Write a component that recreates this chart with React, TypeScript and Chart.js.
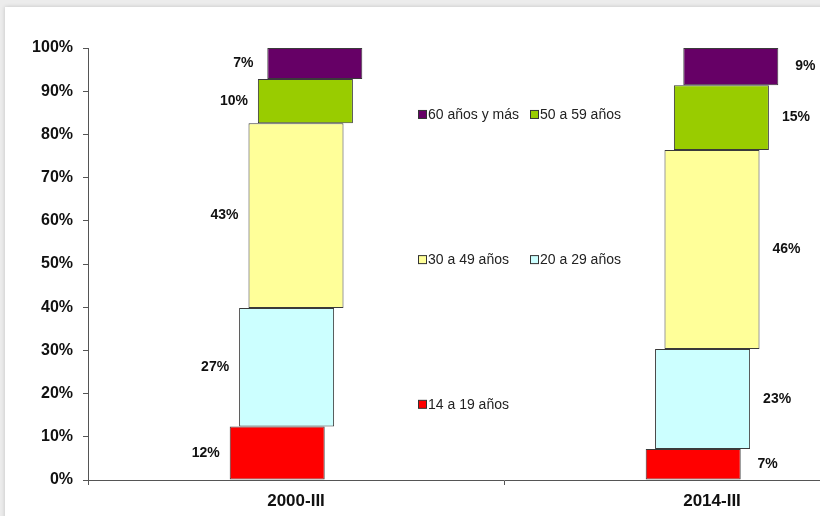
import React, { useEffect, useRef } from "react";
import { Chart, registerables } from "chart.js";

Chart.register(...registerables);

// ---- data ----
const categories = ["2000-III", "2014-III"];
const seriesNames = ["14 a 19 años", "20 a 29 años", "30 a 49 años", "50 a 59 años", "60 años y más"];
const share14to19 = [12.4, 7.2];
const share20to29 = [27.4, 23.1];
const share30to49 = [42.8, 46.1];
const share50to59 = [10.2, 15.0];
const share60plus = [7.2, 8.6];
const yTickValues = [0, 10, 20, 30, 40, 50, 60, 70, 80, 90, 100];

const seriesColors = ["#ff0000", "#ccffff", "#ffff99", "#99cc00", "#660066"];
const FONT = 'Arial, "Liberation Sans", sans-serif';

const allSeries = [share14to19, share20to29, share30to49, share50to59, share60plus];

function buildRanges() {
  const cum = categories.map(() => 0);
  return allSeries.map((series) =>
    series.map((v, j) => {
      const start = cum[j];
      cum[j] = start + v;
      return [start, cum[j]];
    })
  );
}

const valueLabelPlugin = {
  id: "valueLabels",
  afterDatasetsDraw(chart: any) {
    const ctx = chart.ctx;
    ctx.save();
    ctx.font = `bold 14px ${FONT}`;
    ctx.fillStyle = "#111";
    ctx.textAlign = "center";
    ctx.textBaseline = "middle";
    chart.data.datasets.forEach((ds: any, i: number) => {
      const meta = chart.getDatasetMeta(i);
      meta.data.forEach((el: any, j: number) => {
        const v = allSeries[i][j];
        const label = Math.round(v) + "%";
        const yMid = (el.y + el.base) / 2;
        const x = j === 0 ? el.x - el.width / 2 - 24 : el.x + el.width / 2 + 27;
        ctx.fillText(label, x, yMid);
      });
    });
    ctx.restore();
  },
};

const customLegendPlugin = {
  id: "customLegend",
  afterDraw(chart: any) {
    const ctx = chart.ctx;
    const xs = chart.scales.x;
    const ys = chart.scales.y;
    const mid = (xs.getPixelForValue(0) + xs.getPixelForValue(1)) / 2;
    const rows = [
      { at: 84.5, items: [4, 3] },
      { at: 50.9, items: [2, 1] },
      { at: 17.4, items: [0] },
    ];
    const colX = [mid - 86, mid + 26];
    ctx.save();
    ctx.font = `14px ${FONT}`;
    ctx.textAlign = "left";
    ctx.textBaseline = "middle";
    rows.forEach((row) => {
      const y = ys.getPixelForValue(row.at);
      row.items.forEach((si, c) => {
        const x = colX[c];
        ctx.fillStyle = seriesColors[si];
        ctx.fillRect(x + 0.5, y - 4.5, 8, 8);
        ctx.strokeStyle = "#333";
        ctx.lineWidth = 1;
        ctx.strokeRect(x + 0.5, y - 4.5, 8, 8);
        ctx.fillStyle = "#222";
        ctx.fillText(seriesNames[si], x + 10, y);
      });
    });
    ctx.restore();
  },
};

export default function App() {
  const canvasRef = useRef<HTMLCanvasElement | null>(null);

  useEffect(() => {
    if (!canvasRef.current) return;
    const ranges = buildRanges();
    const chart = new Chart(canvasRef.current, {
      type: "bar",
      data: {
        labels: categories,
        datasets: seriesNames.map((name, i) => ({
          label: name,
          data: ranges[i] as any,
          backgroundColor: seriesColors[i],
          borderColor: "#3a3a3a",
          borderWidth: 1,
          borderSkipped: false,
          categoryPercentage: 47 / 416,
          barPercentage: 95 / 9.4,
        })),
      },
      options: {
        responsive: false,
        animation: false,
        devicePixelRatio: 1,
        layout: { padding: { top: 48, right: 10, left: 0, bottom: 0 } },
        plugins: {
          legend: { display: false },
          tooltip: { enabled: false },
        },
        scales: {
          x: {
            stacked: false,
            offset: true,
            grid: {
              display: true,
              drawOnChartArea: false,
              offset: true,
              tickLength: 5,
              color: "#555",
            },
            border: { display: true, color: "#555", width: 1 },
            ticks: {
              color: "#111",
              font: { family: FONT, size: 17, weight: "bold" },
              padding: 6,
            },
            afterFit: (scale: any) => {
              scale.height = 36;
            },
          },
          y: {
            min: 0,
            max: 100,
            afterBuildTicks: (scale: any) => {
              scale.ticks = yTickValues.map((v) => ({ value: v }));
            },
            grid: {
              display: true,
              drawOnChartArea: false,
              tickLength: 5,
              color: "#555",
            },
            border: { display: true, color: "#555", width: 1 },
            ticks: {
              color: "#111",
              font: { family: FONT, size: 16, weight: "bold" },
              padding: 10,
              callback: (v: any) => v + "%",
            },
            afterFit: (scale: any) => {
              scale.width = 88;
            },
          },
        },
      },
      plugins: [valueLabelPlugin, customLegendPlugin],
    });
    return () => chart.destroy();
  }, []);

  return (
    <div
      style={{
        position: "fixed",
        left: 0,
        top: 0,
        width: 820,
        height: 516,
        overflow: "hidden",
        background: "#ececec",
      }}
    >
      <div
        style={{
          position: "absolute",
          left: 5,
          top: 7,
          right: -20,
          bottom: -20,
          background: "#ffffff",
          boxShadow: "0 0 4px rgba(0,0,0,0.18)",
        }}
      />
      <canvas
        ref={canvasRef}
        width={930}
        height={516}
        style={{ position: "absolute", left: 0, top: 0, width: 930, height: 516, display: "block" }}
      />
    </div>
  );
}
